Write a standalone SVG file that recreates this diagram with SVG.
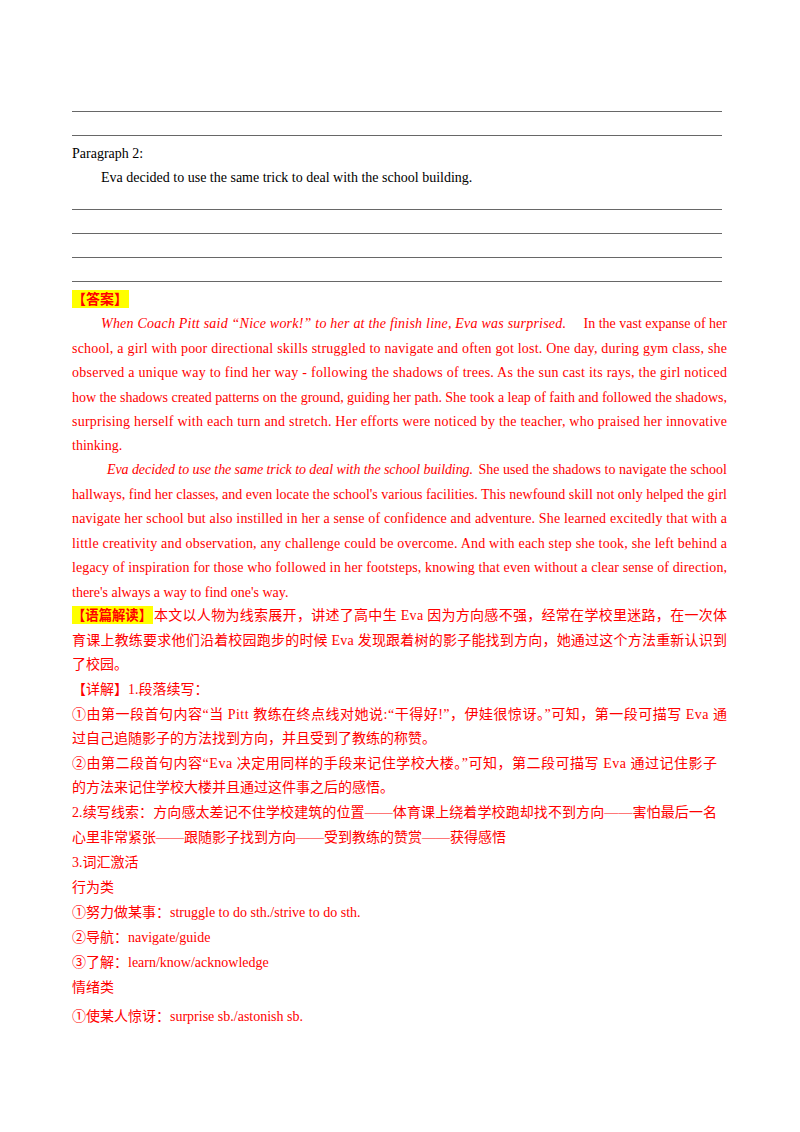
<svg xmlns="http://www.w3.org/2000/svg" width="800" height="1132" viewBox="0 0 800 1132">
<style>
text{font-family:"Liberation Serif","Noto Sans CJK SC",serif;font-size:14px;fill:#000}
.r{fill:#ff0000}
.i{font-style:italic}
.b{font-weight:bold}
line{stroke:#000;stroke-width:0.6}
</style>
<rect width="800" height="1132" fill="#fff"/>
<g id="rules">
<line x1="72" y1="111.5" x2="722" y2="111.5"/>
<line x1="72" y1="135.5" x2="722" y2="135.5"/>
<line x1="72" y1="209.5" x2="722" y2="209.5"/>
<line x1="72" y1="233.5" x2="722" y2="233.5"/>
<line x1="72" y1="257.5" x2="722" y2="257.5"/>
<line x1="72" y1="281.5" x2="722" y2="281.5"/>
</g>
<text x="72" y="158">Paragraph 2:</text>
<text x="101" y="182">Eva decided to use the same trick to deal with the school building.</text>
<rect x="72" y="290" width="57" height="18" fill="#ffff00"/>
<text x="72" y="304" class="r b">【答案】</text>
<text x="101" y="328" class="r i" textLength="465" lengthAdjust="spacing">When Coach Pitt said “Nice work!” to her at the finish line, Eva was surprised.</text>
<text x="727" y="328" class="r" text-anchor="end">In the vast expanse of her</text>
<text x="72" y="353" class="r" textLength="655" lengthAdjust="spacing">school, a girl with poor directional skills struggled to navigate and often got lost. One day, during gym class, she</text>
<text x="72" y="377" class="r" textLength="655" lengthAdjust="spacing">observed a unique way to find her way - following the shadows of trees.    As the sun cast its rays, the girl noticed</text>
<text x="72" y="402" class="r" textLength="655" lengthAdjust="spacing">how the shadows created patterns on the ground, guiding her path. She took a leap of faith and followed the shadows,</text>
<text x="72" y="426" class="r" textLength="655" lengthAdjust="spacing">surprising herself with each turn and stretch.    Her efforts were noticed by the teacher, who praised her innovative</text>
<text x="72" y="450" class="r">thinking.</text>
<text x="107" y="474" class="r i" textLength="366" lengthAdjust="spacing">Eva decided to use the same trick to deal with the school building.</text>
<text x="727" y="474" class="r" text-anchor="end">She used the shadows to navigate the school</text>
<text x="72" y="499" class="r" textLength="655" lengthAdjust="spacing">hallways, find her classes, and even locate the school's various facilities. This newfound skill not only helped the girl</text>
<text x="72" y="523" class="r" textLength="655" lengthAdjust="spacing">navigate her school but also instilled in her a sense of confidence and adventure. She learned excitedly that with a</text>
<text x="72" y="548" class="r" textLength="655" lengthAdjust="spacing">little creativity and observation, any challenge could be overcome. And with each step she took, she left behind a</text>
<text x="72" y="572" class="r" textLength="655" lengthAdjust="spacing">legacy of inspiration for those who followed in her footsteps, knowing that even without a clear sense of direction,</text>
<text x="72" y="597" class="r">there's always a way to find one's way.</text>
<rect x="72" y="606" width="81" height="18" fill="#ffff00"/>
<text x="72" y="620" class="r b" textLength="80" lengthAdjust="spacingAndGlyphs">【语篇解读】</text>
<text x="154" y="620" class="r" textLength="573" lengthAdjust="spacing">本文以人物为线索展开，讲述了高中生 Eva 因为方向感不强，经常在学校里迷路，在一次体</text>
<text x="72" y="645" class="r" textLength="655" lengthAdjust="spacing">育课上教练要求他们沿着校园跑步的时候 Eva 发现跟着树的影子能找到方向，她通过这个方法重新认识到</text>
<text x="72" y="669" class="r">了校园。</text>
<text x="72" y="694" class="r">【详解】1.段落续写：</text>
<text x="72" y="719" class="r" textLength="655" lengthAdjust="spacing">①由第一段首句内容“当 Pitt 教练在终点线对她说:“干得好!”，伊娃很惊讶。”可知，第一段可描写 Eva 通</text>
<text x="72" y="743" class="r">过自己追随影子的方法找到方向，并且受到了教练的称赞。</text>
<text x="72" y="768" class="r" textLength="645" lengthAdjust="spacing">②由第二段首句内容“Eva 决定用同样的手段来记住学校大楼。”可知，第二段可描写 Eva 通过记住影子</text>
<text x="72" y="792" class="r">的方法来记住学校大楼并且通过这件事之后的感悟。</text>
<text x="72" y="817" class="r" textLength="645" lengthAdjust="spacing">2.续写线索：方向感太差记不住学校建筑的位置——体育课上绕着学校跑却找不到方向——害怕最后一名</text>
<text x="72" y="842" class="r">心里非常紧张——跟随影子找到方向——受到教练的赞赏——获得感悟</text>
<text x="72" y="867" class="r">3.词汇激活</text>
<text x="72" y="892" class="r">行为类</text>
<text x="72" y="917" class="r">①努力做某事：struggle to do sth./strive to do sth.</text>
<text x="72" y="942" class="r">②导航：navigate/guide</text>
<text x="72" y="967" class="r">③了解：learn/know/acknowledge</text>
<text x="72" y="992" class="r">情绪类</text>
<text x="72" y="1021" class="r">①使某人惊讶：surprise sb./astonish sb.</text>
</svg>
